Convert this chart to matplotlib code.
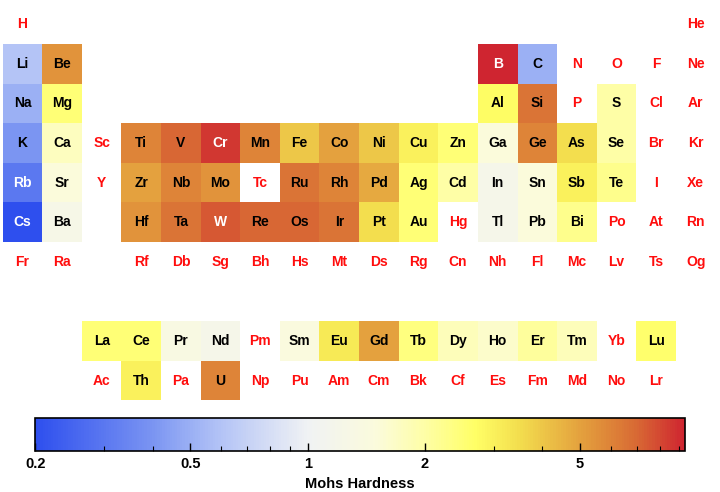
import numpy as np
import matplotlib
matplotlib.use("Agg")
import matplotlib.pyplot as plt
from matplotlib.colors import LinearSegmentedColormap, LogNorm
from matplotlib.ticker import FixedLocator, NullFormatter

plt.rcParams['font.family'] = ['Liberation Sans', 'DejaVu Sans']
plt.rcParams['font.weight'] = 'bold'

symbols = ("H He Li Be B C N O F Ne Na Mg Al Si P S Cl Ar K Ca Sc Ti V Cr Mn Fe Co Ni Cu Zn "
           "Ga Ge As Se Br Kr Rb Sr Y Zr Nb Mo Tc Ru Rh Pd Ag Cd In Sn Sb Te I Xe Cs Ba "
           "La Ce Pr Nd Pm Sm Eu Gd Tb Dy Ho Er Tm Yb Lu Hf Ta W Re Os Ir Pt Au Hg Tl Pb Bi "
           "Po At Rn Fr Ra Ac Th Pa U Np Pu Am Cm Bk Cf Es Fm Md No Lr Rf Db Sg Bh Hs Mt Ds "
           "Rg Cn Nh Fl Mc Lv Ts Og").split()

# Mohs hardness (missing elements are left out)
hardness = {
    'Li': 0.6, 'Be': 5.5, 'B': 9.3, 'C': 0.5, 'Na': 0.5, 'Mg': 2.5, 'Al': 2.75,
    'Si': 6.5, 'S': 2.0, 'K': 0.4, 'Ca': 1.75, 'Ti': 6.0, 'V': 7.0, 'Cr': 8.5,
    'Mn': 6.0, 'Fe': 4.0, 'Co': 5.0, 'Ni': 4.0, 'Cu': 3.0, 'Zn': 2.5, 'Ga': 1.5,
    'Ge': 6.0, 'As': 3.5, 'Se': 2.0, 'Rb': 0.3, 'Sr': 1.5, 'Zr': 5.0, 'Nb': 6.0,
    'Mo': 5.5, 'Ru': 6.5, 'Rh': 6.0, 'Pd': 4.75, 'Ag': 2.5, 'Cd': 2.0, 'In': 1.2,
    'Sn': 1.5, 'Sb': 3.0, 'Te': 2.25, 'Cs': 0.2, 'Ba': 1.25, 'La': 2.5, 'Ce': 2.5,
    'Pr': 1.35, 'Nd': 1.2, 'Sm': 1.45, 'Eu': 3.2, 'Gd': 5.0, 'Tb': 2.4, 'Dy': 1.8,
    'Ho': 1.65, 'Er': 2.1, 'Tm': 1.8, 'Lu': 2.6, 'Hf': 5.5, 'Ta': 6.5, 'W': 7.5,
    'Re': 7.0, 'Os': 7.0, 'Ir': 6.5, 'Pt': 3.5, 'Au': 2.5, 'Tl': 1.2, 'Pb': 1.5,
    'Bi': 2.25, 'Th': 3.0, 'U': 6.0,
}

cmap_vals = [0.2, 0.4, 0.5, 0.6, 1.0, 1.5, 2.0, 2.7, 3.5, 5.0, 6.0, 7.0, 9.3]
cmap_cols = ['#2e4fee', '#7b95f2', '#9bb0f4', '#b4c4f6', '#f0f2f4', '#fbfbdc',
             '#fefea6', '#ffff66', '#f3de4e', '#e4a23e', '#de8438', '#d86a34', '#cf2530']


def position(z):
    # (row, column) in the periodic table layout, 1-based
    if z == 1:
        return 1, 1
    if z == 2:
        return 1, 18
    if z <= 18:
        row = 2 if z <= 10 else 3
        k = z - (2 if row == 2 else 10)
        return row, (k if k <= 2 else k + 10)
    if z <= 54:
        row = 4 if z <= 36 else 5
        return row, z - (18 if row == 4 else 36)
    start = 54 if z <= 86 else 86
    row = 6 if z <= 86 else 7
    k = z - start
    if k <= 2:
        return row, k
    if k <= 17:
        return row + 3, k
    return row, k - 14


vmin, vmax = min(cmap_vals), max(cmap_vals)
norm = LogNorm(vmin, vmax)
cmap = LinearSegmentedColormap.from_list(
    'temp', list(zip([float(norm(v)) for v in cmap_vals], cmap_cols)))

grid = np.full((10, 18), np.nan)
for z, s in enumerate(symbols, start=1):
    r, c = position(z)
    if s in hardness:
        grid[r - 1, c - 1] = hardness[s]

fig = plt.figure(figsize=(7.2, 4.92), dpi=100)
ax = fig.add_axes([2.7 / 720, 1 - 400.4 / 492, 712.8 / 720, 396 / 492])
mesh = ax.pcolormesh(np.arange(19), np.arange(11), np.ma.masked_invalid(grid),
                     cmap=cmap, norm=norm)
ax.set_xlim(0, 18)
ax.set_ylim(10, 0)
ax.axis('off')

for z, s in enumerate(symbols, start=1):
    r, c = position(z)
    v = hardness.get(s)
    if v is None:
        color = '#ff0d0d'
    elif v < 0.35 or v > 7.2:
        color = 'white'
    else:
        color = 'black'
    ax.text(c - 0.5, r - 0.5, s, ha='center', va='center', fontsize=10,
            fontweight='bold', color=color)

cax = fig.add_axes([35.3 / 720, 1 - 451 / 492, 649.7 / 720, 33 / 492])
cb = fig.colorbar(mesh, cax=cax, orientation='horizontal')
cb.outline.set_linewidth(1.2)
cax.xaxis.set_major_locator(FixedLocator([0.2, 0.5, 1, 2, 5]))
cax.xaxis.set_minor_locator(FixedLocator([0.3, 0.4, 0.6, 0.7, 0.8, 0.9, 3, 4, 6, 7, 8, 9]))
cax.xaxis.set_minor_formatter(NullFormatter())
cax.set_xticklabels(['0.2', '0.5', '1', '2', '5'])
cax.tick_params(axis='x', which='major', direction='in', length=6, width=1, labelsize=10.5, pad=4)
cax.tick_params(axis='x', which='minor', direction='in', length=3.5, width=0.8)
cb.set_label('Mohs Hardness', fontsize=10.5, fontweight='bold', labelpad=5)

fig.savefig('out.png', dpi=100)
